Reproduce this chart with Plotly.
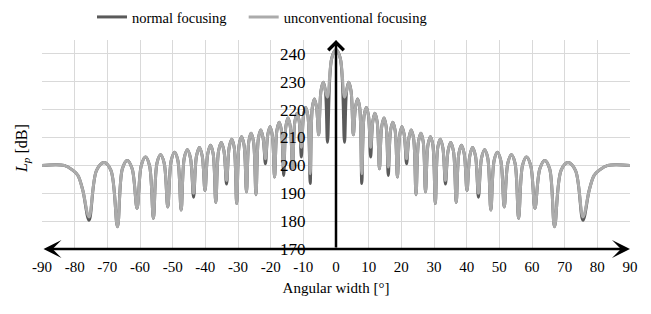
import plotly.graph_objects as go

# Right half of the (symmetric) beam pattern:
# angle [deg] of main lobe, lobe shoulders, peaks and nulls
angle_right = [0.0, 1.3, 2.6,
               3.25, 3.9, 4.6, 5.3,
               5.95, 6.6, 7.25, 7.9,
               8.6, 9.3, 9.95, 10.6,
               11.25, 11.9, 12.6, 13.3,
               14.0, 14.7, 15.35, 16.0,
               16.7, 17.4, 18.1, 18.8,
               19.5, 20.2, 20.9, 21.6,
               22.3, 23.0, 23.75, 24.5,
               25.25, 26.0, 26.7, 27.4,
               28.15, 28.9, 29.65, 30.4,
               31.15, 31.9, 32.7, 33.5,
               34.3, 35.1, 35.95, 36.8,
               37.6, 38.4, 39.25, 40.1,
               40.95, 41.8, 42.7, 43.6,
               44.55, 45.5, 46.45, 47.4,
               48.4, 49.4, 50.45, 51.5,
               52.6, 53.7, 54.8, 55.9,
               57.1, 58.3, 59.6, 60.9,
               62.4, 63.9, 65.4, 66.9,
               68.9, 71.0, 73.3, 75.6,
               77.5, 79.0, 80.6, 83.2, 90.0]

# Lp [dB], normal focusing
lp_normal_right = [241.5, 238.5, 208.3,
                   226.8, 229.8, 226.8, 211.0,
                   220.8, 223.8, 220.8, 193.5,
                   217.8, 220.8, 217.8, 203.0,
                   215.7, 218.7, 215.7, 198.8,
                   214.0, 217.0, 214.0, 196.4,
                   212.5, 215.5, 212.5, 195.8,
                   210.9, 213.9, 210.9, 200.6,
                   209.7, 212.7, 209.7, 189.5,
                   208.5, 211.5, 208.5, 190.5,
                   207.3, 210.3, 207.3, 186.3,
                   206.4, 209.4, 206.4, 193.3,
                   205.2, 208.2, 205.2, 186.7,
                   204.2, 207.2, 204.2, 191.0,
                   203.4, 206.4, 203.4, 188.6,
                   202.6, 205.6, 202.6, 184.0,
                   201.7, 204.7, 201.7, 185.1,
                   200.8, 203.8, 200.8, 181.0,
                   200.0, 203.0, 200.0, 184.6,
                   198.8, 201.8, 198.8, 178.0,
                   198.2, 201.0, 198.2, 180.3,
                   191.0, 196.4, 198.3, 200.0, 200.0]

# Lp [dB], unconventional focusing
lp_unconv_right = [241.5, 238.5, 224.5,
                   226.8, 229.8, 226.8, 211.0,
                   220.8, 223.8, 220.8, 197.0,
                   217.8, 220.8, 217.8, 206.5,
                   215.7, 218.7, 215.7, 198.8,
                   214.0, 217.0, 214.0, 199.4,
                   212.5, 215.5, 212.5, 195.8,
                   210.9, 213.9, 210.9, 202.4,
                   209.7, 212.7, 209.7, 189.5,
                   208.5, 211.5, 208.5, 190.5,
                   207.3, 210.3, 207.3, 186.3,
                   206.4, 209.4, 206.4, 194.6,
                   205.2, 208.2, 205.2, 186.7,
                   204.2, 207.2, 204.2, 191.0,
                   203.4, 206.4, 203.4, 190.0,
                   202.6, 205.6, 202.6, 184.0,
                   201.7, 204.7, 201.7, 185.1,
                   200.8, 203.8, 200.8, 181.0,
                   200.0, 203.0, 200.0, 184.6,
                   198.8, 201.8, 198.8, 178.0,
                   198.2, 201.0, 198.2, 181.5,
                   191.0, 196.4, 198.3, 200.0, 200.0]

x_ticks = list(range(-90, 91, 10))
y_ticks = list(range(170, 241, 10))

# The measured pattern is symmetric about 0 deg: mirror the right half
angle = [-a for a in angle_right[:0:-1]] + angle_right
lp_normal = lp_normal_right[:0:-1] + lp_normal_right
lp_unconv = lp_unconv_right[:0:-1] + lp_unconv_right

FONT = "Liberation Serif, Times New Roman, serif"

fig = go.Figure()
fig.add_trace(go.Scatter(x=angle, y=lp_normal, mode="lines", name="normal focusing",
                         legend="legend", showlegend=True,
                         line=dict(color="#5a5a5a", width=3, shape="spline", smoothing=1.0)))
fig.add_trace(go.Scatter(x=angle, y=lp_unconv, mode="lines", name="unconventional focusing",
                         legend="legend2", showlegend=True,
                         line=dict(color="#ababab", width=3, shape="spline", smoothing=1.0)))

legend_style = dict(orientation="h", xanchor="left", y=1.11, yanchor="middle",
                    font=dict(family=FONT, size=14.5), itemwidth=30,
                    bgcolor="rgba(0,0,0,0)")

# the page body has an 8 px margin, so the figure is 8 px smaller each way
fig.update_layout(
    width=643, height=306,
    margin=dict(l=34, r=21, t=32, b=65, autoexpand=False),
    plot_bgcolor="white", paper_bgcolor="white",
    showlegend=True,
    font=dict(family=FONT, size=15, color="black"),
    legend=dict(x=0.085, visible=True, **legend_style),
    legend2=dict(x=0.343, visible=True, **legend_style),
    xaxis=dict(range=[-90, 90], tickvals=x_ticks, ticktext=[str(v) for v in x_ticks],
               showgrid=True, gridcolor="#d9d9d9", gridwidth=1.3, zeroline=False,
               showline=False, ticks="outside", ticklen=4, tickcolor="rgba(0,0,0,0)",
               tickfont=dict(family=FONT, size=15), automargin=False,
               title=dict(text="Angular width [°]", font=dict(family=FONT, size=15), standoff=8)),
    yaxis=dict(range=[170, 245], tickvals=y_ticks, anchor="free", position=0.488,
               showgrid=True, gridcolor="#d9d9d9", gridwidth=1.3, zeroline=False,
               showline=False, ticks="outside", ticklen=20, tickcolor="rgba(0,0,0,0)",
               tickfont=dict(family=FONT, size=17), automargin=False),
)

# Axis arrows
fig.add_annotation(x=0, y=245, ax=0, ay=170, xref="x", yref="y", axref="x", ayref="y",
                   text="", showarrow=True, arrowhead=4, arrowsize=1.2, arrowwidth=2.5,
                   arrowcolor="black")
fig.add_annotation(x=90, y=170, ax=-90, ay=170, xref="x", yref="y", axref="x", ayref="y",
                   text="", showarrow=True, arrowhead=3, startarrowhead=3, arrowside="end+start",
                   arrowsize=1.2, startarrowsize=1.2, arrowwidth=2.5, arrowcolor="black")

# Y axis title
fig.add_annotation(x=-0.034, y=0.478, xref="paper", yref="paper", showarrow=False,
                   text="<i>L<sub>p</sub></i> [dB]", textangle=-90,
                   font=dict(family=FONT, size=16), xanchor="center", yanchor="middle")

fig.write_html("out.html")
